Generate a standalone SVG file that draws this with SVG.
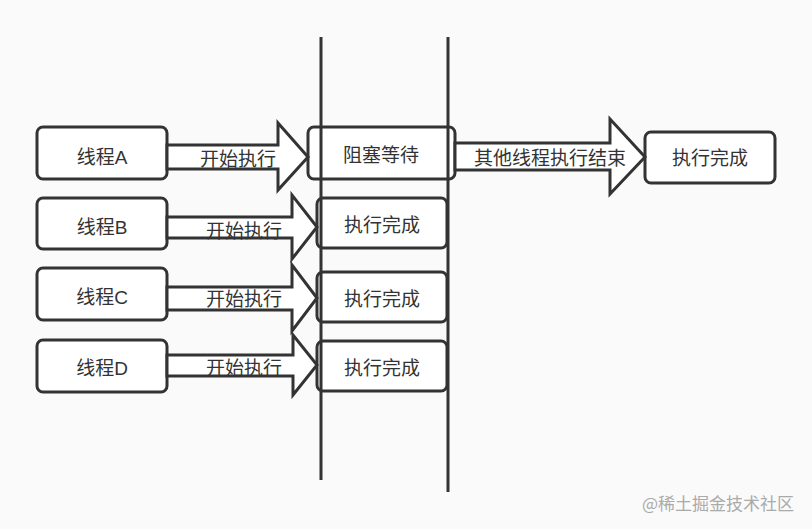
<svg xmlns="http://www.w3.org/2000/svg" width="812" height="529" viewBox="0 0 812 529">
<style>
.box{fill:#fff;stroke:#333;stroke-width:3}
.arr{fill:#fff;stroke:#333;stroke-width:3;stroke-linejoin:miter}
.t{font-family:"Liberation Sans","Noto Sans CJK SC",sans-serif;font-size:19px;fill:#333;text-anchor:middle;dominant-baseline:central}
.vl{stroke:#333;stroke-width:3}
</style>
<rect width="812" height="529" fill="#fafafa"/>
<g id="nodeA"><rect class="box" x="37" y="127" width="130" height="52" rx="6"/><text class="t" x="102" y="157">线程A</text></g>
<g id="nodeB"><rect class="box" x="37" y="198" width="130" height="51" rx="6"/><text class="t" x="102" y="227">线程B</text></g>
<g id="nodeC"><rect class="box" x="37" y="268" width="130" height="52" rx="6"/><text class="t" x="102" y="297">线程C</text></g>
<g id="nodeD"><rect class="box" x="37" y="340" width="130" height="52" rx="6"/><text class="t" x="102" y="368">线程D</text></g>
<g id="block"><rect class="box" x="308" y="127" width="147" height="52" rx="6"/><text class="t" x="381" y="155">阻塞等待</text></g>
<g id="doneB"><rect class="box" x="317" y="198" width="130" height="50" rx="6"/><text class="t" x="382" y="225">执行完成</text></g>
<g id="doneC"><rect class="box" x="317" y="272" width="130" height="50" rx="6"/><text class="t" x="382" y="299">执行完成</text></g>
<g id="doneD"><rect class="box" x="317" y="341" width="130" height="50" rx="6"/><text class="t" x="382" y="368">执行完成</text></g>
<g id="doneA"><rect class="box" x="645" y="132" width="130" height="51" rx="6"/><text class="t" x="710" y="158">执行完成</text></g>
<g id="connectors">
<line class="vl" x1="321" y1="37" x2="321" y2="480"/>
<line class="vl" x1="448" y1="37" x2="448" y2="492"/>
<polygon class="arr" points="167,145 278,145 278,123 308,157 278,190 278,169 167,169"/>
<polygon class="arr" points="167,217 292,217 292,195 317,227 292,259 292,238 167,238"/>
<polygon class="arr" points="167,287 292,287 292,265 317,298 292,331 292,310 167,310"/>
<polygon class="arr" points="167,355 293,355 293,335 317,365 293,395 293,376 167,376"/>
<polygon class="arr" points="455,143 610,143 610,119 645,157 610,194 610,170 455,170"/>
<text class="t" x="238" y="159">开始执行</text>
<text class="t" x="244" y="231">开始执行</text>
<text class="t" x="244" y="299">开始执行</text>
<text class="t" x="244" y="368">开始执行</text>
<text class="t" x="550" y="158">其他线程执行结束</text>
</g>
<text x="718" y="502" style="font-family:'Noto Sans CJK SC',sans-serif;font-size:17px;fill:#aaa;text-anchor:middle;dominant-baseline:central">@稀土掘金技术社区</text>
</svg>
